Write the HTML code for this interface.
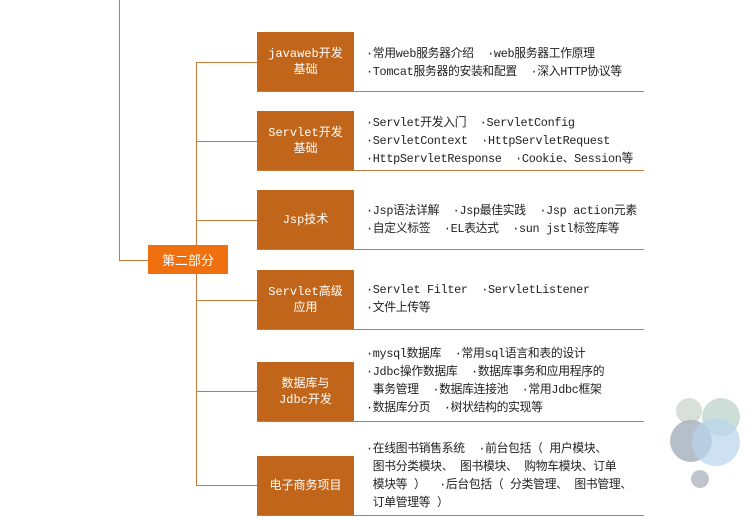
<!DOCTYPE html>
<html><head><meta charset="utf-8"><style>
body{margin:0;width:750px;height:520px;background:#fff;position:relative;overflow:hidden;font-family:"Liberation Mono","WenQuanYi Zen Hei","Noto Sans CJK SC",monospace;}
.l{position:absolute;background:#c47a3a}
.b{position:absolute;left:257px;width:97px;height:59px;background:#c0651a;color:#fff;font-size:12px;display:flex;align-items:center;justify-content:center;text-align:center;line-height:16px}
.t{position:absolute;left:366px;font-size:11.8px;color:#222;line-height:18px;white-space:pre;letter-spacing:-0.3px}
.u{position:absolute;left:257px;width:387px;height:1px;background:#c47a3a}
.c{position:absolute;border-radius:50%}
</style></head><body>
<div class="l" style="left:119px;top:0;width:1px;height:260px"></div>
<div class="l" style="left:119px;top:260px;width:30px;height:1px"></div>
<div class="l" style="left:196px;top:62px;width:1px;height:424px"></div>
<div class="l" style="left:196px;top:62px;width:61px;height:1px"></div>
<div class="l" style="left:196px;top:141px;width:61px;height:1px"></div>
<div class="l" style="left:196px;top:220px;width:61px;height:1px"></div>
<div class="l" style="left:196px;top:300px;width:61px;height:1px"></div>
<div class="l" style="left:196px;top:391px;width:61px;height:1px"></div>
<div class="l" style="left:196px;top:485px;width:61px;height:1px"></div>
<div style="position:absolute;left:148px;top:245px;width:80px;height:29px;background:#f07010;color:#fff;font-size:13px;display:flex;align-items:center;justify-content:center">第二部分</div>

<div class="b" style="top:32px">javaweb开发<br>基础</div><div class="u" style="top:91px"></div>
<div class="t" style="top:45px">·常用web服务器介绍  ·web服务器工作原理
·Tomcat服务器的安装和配置  ·深入HTTP协议等</div>

<div class="b" style="top:111px">Servlet开发<br>基础</div><div class="u" style="top:170px"></div>
<div class="t" style="top:114px">·Servlet开发入门  ·ServletConfig
·ServletContext  ·HttpServletRequest
·HttpServletResponse  ·Cookie、Session等</div>

<div class="b" style="top:190px">Jsp技术</div><div class="u" style="top:249px"></div>
<div class="t" style="top:202px">·Jsp语法详解  ·Jsp最佳实践  ·Jsp action元素
·自定义标签  ·EL表达式  ·sun jstl标签库等</div>

<div class="b" style="top:270px">Servlet高级<br>应用</div><div class="u" style="top:329px"></div>
<div class="t" style="top:281px">·Servlet Filter  ·ServletListener
·文件上传等</div>

<div class="b" style="top:362px">数据库与<br>Jdbc开发</div><div class="u" style="top:421px"></div>
<div class="t" style="top:345px">·mysql数据库  ·常用sql语言和表的设计
·Jdbc操作数据库  ·数据库事务和应用程序的
 事务管理  ·数据库连接池  ·常用Jdbc框架
·数据库分页  ·树状结构的实现等</div>

<div class="b" style="top:456px">电子商务项目</div><div class="u" style="top:515px"></div>
<div class="t" style="top:440px">·在线图书销售系统  ·前台包括（ 用户模块、
 图书分类模块、 图书模块、 购物车模块、订单
 模块等 ）  ·后台包括（ 分类管理、 图书管理、
 订单管理等 ）</div>

<div class="c" style="left:676px;top:398px;width:26px;height:26px;background:#d8e0d8"></div>
<div class="c" style="left:702px;top:398px;width:38px;height:38px;background:#c8dcd4;opacity:.9"></div>
<div class="c" style="left:670px;top:420px;width:42px;height:42px;background:#a8b4c0;opacity:.85"></div>
<div class="c" style="left:692px;top:418px;width:48px;height:48px;background:#b8d4ec;opacity:.7"></div>
<div class="c" style="left:691px;top:470px;width:18px;height:18px;background:#c0c4cc"></div>
</body></html>
